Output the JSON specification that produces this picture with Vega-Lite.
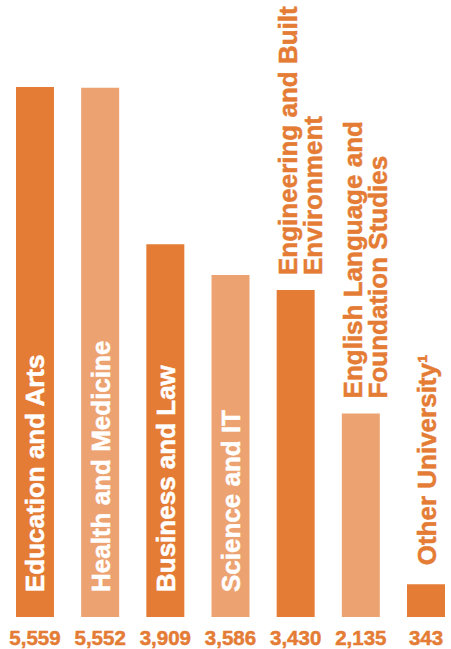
{
  "$schema": "https://vega.github.io/schema/vega-lite/v6.json",
  "width": 429,
  "height": 530,
  "autosize": {"type": "none"},
  "padding": {"left": 16, "top": 87, "right": 6, "bottom": 32},
  "background": "white",
  "config": {"view": {"stroke": null}},
  "data": {
    "values": [
      {"category": "Education and Arts", "label": "Education and Arts", "count": 5559},
      {"category": "Health and Medicine", "label": "Health and Medicine", "count": 5552},
      {"category": "Business and Law", "label": "Business and Law", "count": 3909},
      {"category": "Science and IT", "label": "Science and IT", "count": 3586},
      {"category": "Engineering and Built Environment", "label": "Engineering and Built\nEnvironment", "count": 3430},
      {"category": "English Language and Foundation Studies", "label": "English Language and\nFoundation Studies", "count": 2135},
      {"category": "Other University", "label": "Other University¹", "count": 343}
    ]
  },
  "encoding": {
    "x": {
      "field": "category",
      "type": "nominal",
      "sort": null,
      "axis": null,
      "scale": {"paddingInner": 0.417, "paddingOuter": 0}
    }
  },
  "layer": [
    {
      "mark": {"type": "bar"},
      "encoding": {
        "y": {"field": "count", "type": "quantitative", "axis": null, "scale": {"domain": [0, 5559], "nice": false}},
        "color": {
          "field": "category",
          "type": "nominal",
          "legend": null,
          "sort": null,
          "scale": {
            "domain": ["Education and Arts", "Health and Medicine", "Business and Law", "Science and IT", "Engineering and Built Environment", "English Language and Foundation Studies", "Other University"],
            "range": ["#E47C35", "#ECA371", "#E47C35", "#ECA371", "#E47C35", "#ECA371", "#E47C35"]
          }
        }
      }
    },
    {
      "transform": [{"filter": "datum.count >= 3500"}],
      "mark": {"type": "text", "angle": 270, "align": "left", "baseline": "alphabetic", "dx": 25, "dy": 9.5, "font": "Liberation Sans", "fontWeight": "bold", "fontSize": 26, "color": "white", "stroke": "white", "strokeWidth": 0.5},
      "encoding": {
        "y": {"datum": 0, "type": "quantitative"},
        "text": {"field": "label", "type": "nominal"}
      }
    },
    {
      "transform": [{"filter": "datum.count < 3500 && indexof(datum.label, '\\n') < 0"}],
      "mark": {"type": "text", "angle": 270, "align": "left", "baseline": "alphabetic", "dx": 19, "dy": 9.5, "font": "Liberation Sans", "fontWeight": "bold", "fontSize": 26, "color": "#E47C35", "stroke": "#E47C35", "strokeWidth": 0.5},
      "encoding": {
        "y": {"field": "count", "type": "quantitative"},
        "text": {"field": "label", "type": "nominal"}
      }
    },
    {
      "transform": [{"filter": "datum.count < 3500 && indexof(datum.label, '\\n') >= 0"}],
      "mark": {"type": "text", "angle": 270, "align": "left", "baseline": "alphabetic", "dx": 15, "dy": 1.5, "lineBreak": "\n", "lineHeight": 24.5, "font": "Liberation Sans", "fontWeight": "bold", "fontSize": 26, "color": "#E47C35", "stroke": "#E47C35", "strokeWidth": 0.5},
      "encoding": {
        "y": {"field": "count", "type": "quantitative"},
        "text": {"field": "label", "type": "nominal"}
      }
    },
    {
      "mark": {"type": "text", "align": "center", "baseline": "alphabetic", "dy": 28, "font": "Liberation Sans", "fontWeight": "bold", "fontSize": 20.5, "color": "#E47C35", "stroke": "#E47C35", "strokeWidth": 0.5},
      "encoding": {
        "y": {"datum": 0, "type": "quantitative"},
        "text": {"field": "count", "type": "quantitative", "format": ","}
      }
    }
  ]
}
